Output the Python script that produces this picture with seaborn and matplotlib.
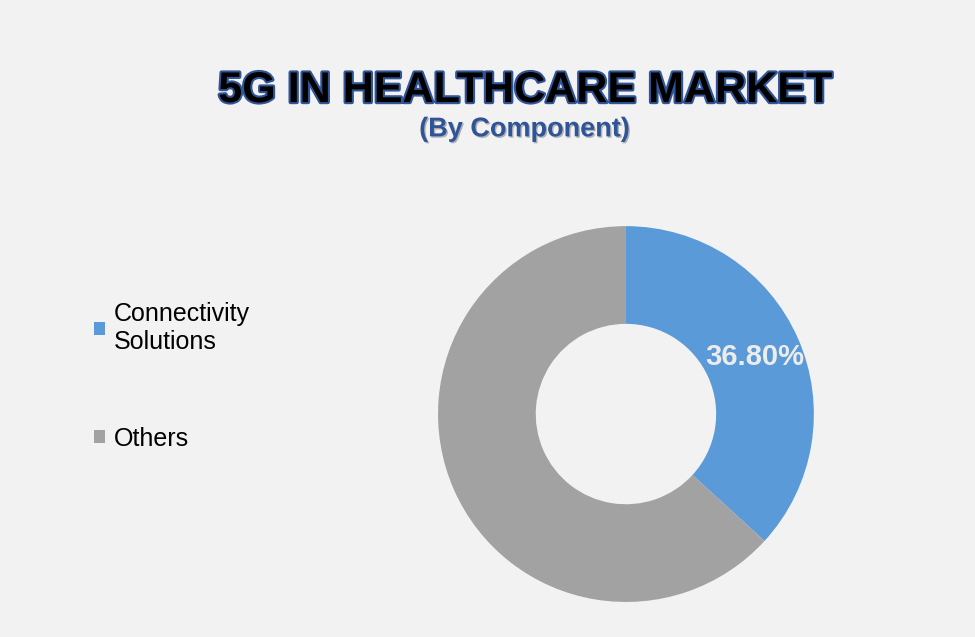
import matplotlib
matplotlib.use("Agg")
import matplotlib.pyplot as plt
import matplotlib.patheffects as pe
from matplotlib.patches import Patch
import seaborn as sns

# chart data
components = ["Connectivity\nSolutions", "Others"]
shares = [36.8, 63.2]
colors = ["#5a9ad8", "#a2a2a2"]

sns.set_theme(style="white")
plt.rcParams["font.family"] = ["Liberation Sans", "DejaVu Sans"]

fig = plt.figure(figsize=(9.75, 6.37), dpi=100)
fig.patch.set_facecolor("#f2f2f2")

ax = fig.add_axes([0.449, 0.055, 0.386, 0.590])
ax.set_facecolor("#f2f2f2")

wedges, texts, autotexts = ax.pie(
    shares,
    colors=colors,
    startangle=90,
    counterclock=False,
    wedgeprops=dict(width=0.52, edgecolor="none"),
    autopct=lambda p: f"{p:.2f}%" if p < 50 else "",
    pctdistance=0.75,
    textprops=dict(color="#ececec", fontsize=21, fontweight="bold"),
)
ax.set_xlim(-1, 1)
ax.set_ylim(-1, 1)
ax.set_aspect("equal")

# title
fig.text(0.538, 0.857, "5G IN HEALTHCARE MARKET", ha="center", va="center",
         fontsize=31, fontweight="bold", color="black",
         path_effects=[pe.withStroke(linewidth=3, foreground="#2f5597")])
fig.text(0.538, 0.797, "(By Component)", ha="center", va="center",
         fontsize=19.5, fontweight="bold", color="#2f5597",
         path_effects=[pe.SimplePatchShadow(offset=(1, -1), alpha=0.3), pe.Normal()])

handles = [Patch(facecolor=c, edgecolor="none") for c in colors]
leg = fig.legend(handles, components, loc="center left",
                 bbox_to_anchor=(0.073, 0.409), frameon=False,
                 fontsize=18, handlelength=0.45, handleheight=0.4,
                 handletextpad=0.35, labelspacing=2.9)
for t in leg.get_texts():
    t.set_color("black")
    t.set_linespacing(1.2)

fig.savefig("out.png", dpi=100, facecolor=fig.get_facecolor())
